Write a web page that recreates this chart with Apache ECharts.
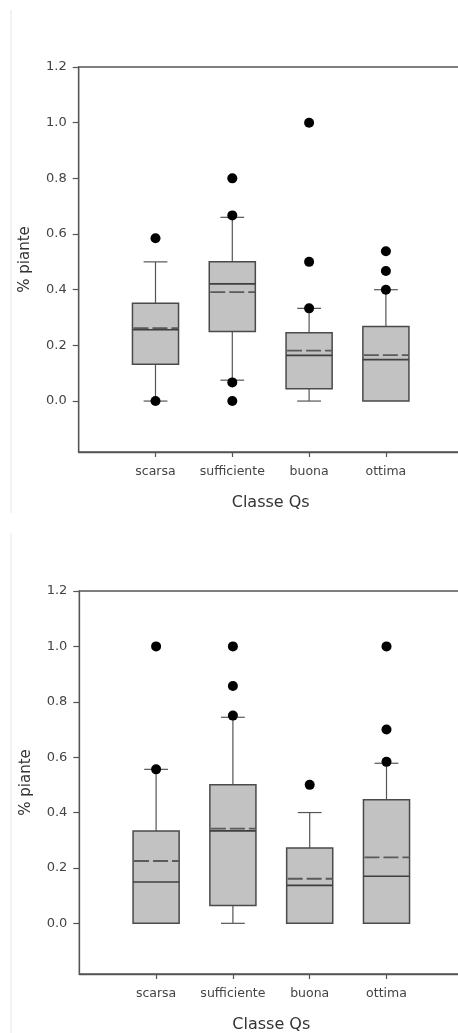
<!DOCTYPE html>
<html>
<head>
<meta charset="utf-8">
<script src="https://cdn.jsdelivr.net/npm/echarts@6/dist/echarts.min.js"></script>
<style>
  html, body { margin: 0; padding: 0; background: #fff; }
  #main { width: 458px; height: 1033px; }
</style>
</head>
<body>
<div id="main"></div>
<script>
// categorie asse x
var categories = ['scarsa', 'sufficiente', 'buona', 'ottima'];
var yTicks = [0, 0.2, 0.4, 0.6, 0.8, 1.0, 1.2];

// grafico alto
var topMin = [0, 0.075, 0, 0];
var topQ1 = [0.132, 0.25, 0.044, 0];
var topMedian = [0.256, 0.421, 0.164, 0.149];
var topQ3 = [0.351, 0.5, 0.245, 0.268];
var topMax = [0.5, 0.66, 0.333, 0.4];
var topMean = [0.262, 0.391, 0.181, 0.165];
var topOutCat = ['scarsa', 'scarsa', 'sufficiente', 'sufficiente', 'sufficiente', 'sufficiente', 'buona', 'buona', 'buona', 'ottima', 'ottima', 'ottima'];
var topOutVal = [0.585, 0, 0.8, 0.667, 0.067, 0, 1.0, 0.5, 0.333, 0.538, 0.467, 0.4];

// grafico basso
var botMin = [0, 0, 0, 0];
var botQ1 = [0, 0.064, 0, 0];
var botMedian = [0.149, 0.334, 0.137, 0.17];
var botQ3 = [0.333, 0.5, 0.272, 0.446];
var botMax = [0.556, 0.744, 0.4, 0.578];
var botMean = [0.225, 0.342, 0.161, 0.238];
var botOutCat = ['scarsa', 'scarsa', 'sufficiente', 'sufficiente', 'sufficiente', 'buona', 'ottima', 'ottima', 'ottima'];
var botOutVal = [1.0, 0.556, 1.0, 0.857, 0.75, 0.5, 1.0, 0.7, 0.583];

var FONT = 'DejaVu Sans, Liberation Sans, sans-serif';
var DARK = '#555';

function boxData(mn, q1, md, q3, mx, mean) {
	return categories.map(function (c, i) {
		return [i + 1, mn[i], q1[i], md[i], q3[i], mx[i], mean[i]];
	});
}
function outData(cats, vals) {
	return cats.map(function (c, i) {
		return [categories.indexOf(c) + 1, vals[i]];
	});
}

function renderBox(params, api) {
	var x = api.value(0);
	var lo = api.value(1), q1 = api.value(2), md = api.value(3);
	var q3 = api.value(4), hi = api.value(5), mean = api.value(6);
	var unit = api.size([1, 0])[0];
	var bw = unit * 0.3, cw = unit * 0.155;
	var cx = api.coord([x, 0])[0];
	function py(v) { return api.coord([x, v])[1]; }
	var line = { stroke: DARK, lineWidth: 1.2 };
	var kids = [];
	if (hi > q3) {
		kids.push({ type: 'line', shape: { x1: cx, y1: py(q3), x2: cx, y2: py(hi) }, style: line });
		kids.push({ type: 'line', shape: { x1: cx - cw, y1: py(hi), x2: cx + cw, y2: py(hi) }, style: line });
	}
	if (lo < q1) {
		kids.push({ type: 'line', shape: { x1: cx, y1: py(q1), x2: cx, y2: py(lo) }, style: line });
		kids.push({ type: 'line', shape: { x1: cx - cw, y1: py(lo), x2: cx + cw, y2: py(lo) }, style: line });
	}
	kids.push({ type: 'rect', shape: { x: cx - bw, y: py(q3), width: bw * 2, height: py(q1) - py(q3) },
		style: { fill: '#c2c2c2', stroke: '#4a4a4a', lineWidth: 1.5 } });
	kids.push({ type: 'line', shape: { x1: cx - bw, y1: py(md), x2: cx + bw, y2: py(md) },
		style: { stroke: '#3f3f3f', lineWidth: 1.6 } });
	kids.push({ type: 'line', shape: { x1: cx - bw + 1, y1: py(mean), x2: cx + bw, y2: py(mean) },
		style: { stroke: '#5a5a5a', lineWidth: 1.8, lineDash: [15, 4] } });
	return { type: 'group', children: kids };
}

function xAxis(gi) {
	return {
		type: 'value', gridIndex: gi, min: 0, max: 5,
		name: 'Classe Qs', nameLocation: 'middle', nameGap: 43,
		nameTextStyle: { fontFamily: FONT, fontSize: 16, color: '#333' },
		axisLine: { show: true, onZero: false, lineStyle: { color: DARK, width: 1.3 } },
		axisTick: { show: true, customValues: [1, 2, 3, 4], length: 5, lineStyle: { color: DARK, width: 1.2 } },
		axisLabel: { customValues: [1, 2, 3, 4], margin: 13, fontFamily: FONT, fontSize: 12.5, color: '#444',
			formatter: function (v) { return categories[v - 1]; } },
		splitLine: { show: false }
	};
}
function yAxis(gi) {
	return {
		type: 'value', gridIndex: gi, min: -0.183, max: 1.2,
		name: '% piante', nameLocation: 'middle', nameGap: 46,
		nameTextStyle: { fontFamily: FONT, fontSize: 15, color: '#333' },
		axisLine: { show: true, onZero: false, lineStyle: { color: DARK, width: 1.3 } },
		axisTick: { show: true, customValues: yTicks, length: 6, lineStyle: { color: DARK, width: 1.2 } },
		axisLabel: { customValues: yTicks, margin: 12, fontFamily: FONT, fontSize: 13, color: '#444',
			formatter: function (v) { return v.toFixed(1); } },
		splitLine: { show: false }
	};
}

var chart = echarts.init(document.getElementById('main'));
chart.setOption({
	animation: false,
	backgroundColor: '#fff',
	graphic: [
		{ type: 'line', shape: { x1: 11, y1: 10, x2: 11, y2: 513 }, style: { stroke: '#e6e6e6', lineWidth: 1 } },
		{ type: 'line', shape: { x1: 11, y1: 533, x2: 11, y2: 1033 }, style: { stroke: '#e6e6e6', lineWidth: 1 } }
	],
	grid: [
		{ left: 78.7, top: 67, width: 384, height: 385, show: true, borderColor: DARK, borderWidth: 1.3,
			containLabel: false, outerBoundsMode: 'none' },
		{ left: 79.3, top: 591, width: 384, height: 383, show: true, borderColor: DARK, borderWidth: 1.3,
			containLabel: false, outerBoundsMode: 'none' }
	],
	xAxis: [xAxis(0), xAxis(1)],
	yAxis: [yAxis(0), yAxis(1)],
	series: [
		{ type: 'custom', xAxisIndex: 0, yAxisIndex: 0, renderItem: renderBox, clip: false,
			encode: { x: 0, y: [1, 2, 3, 4, 5, 6] },
			data: boxData(topMin, topQ1, topMedian, topQ3, topMax, topMean) },
		{ type: 'scatter', xAxisIndex: 0, yAxisIndex: 0, symbolSize: 10, z: 5,
			itemStyle: { color: '#000', opacity: 1 }, data: outData(topOutCat, topOutVal) },
		{ type: 'custom', xAxisIndex: 1, yAxisIndex: 1, renderItem: renderBox, clip: false,
			encode: { x: 0, y: [1, 2, 3, 4, 5, 6] },
			data: boxData(botMin, botQ1, botMedian, botQ3, botMax, botMean) },
		{ type: 'scatter', xAxisIndex: 1, yAxisIndex: 1, symbolSize: 10, z: 5,
			itemStyle: { color: '#000', opacity: 1 }, data: outData(botOutCat, botOutVal) }
	]
});
</script>
</body>
</html>
